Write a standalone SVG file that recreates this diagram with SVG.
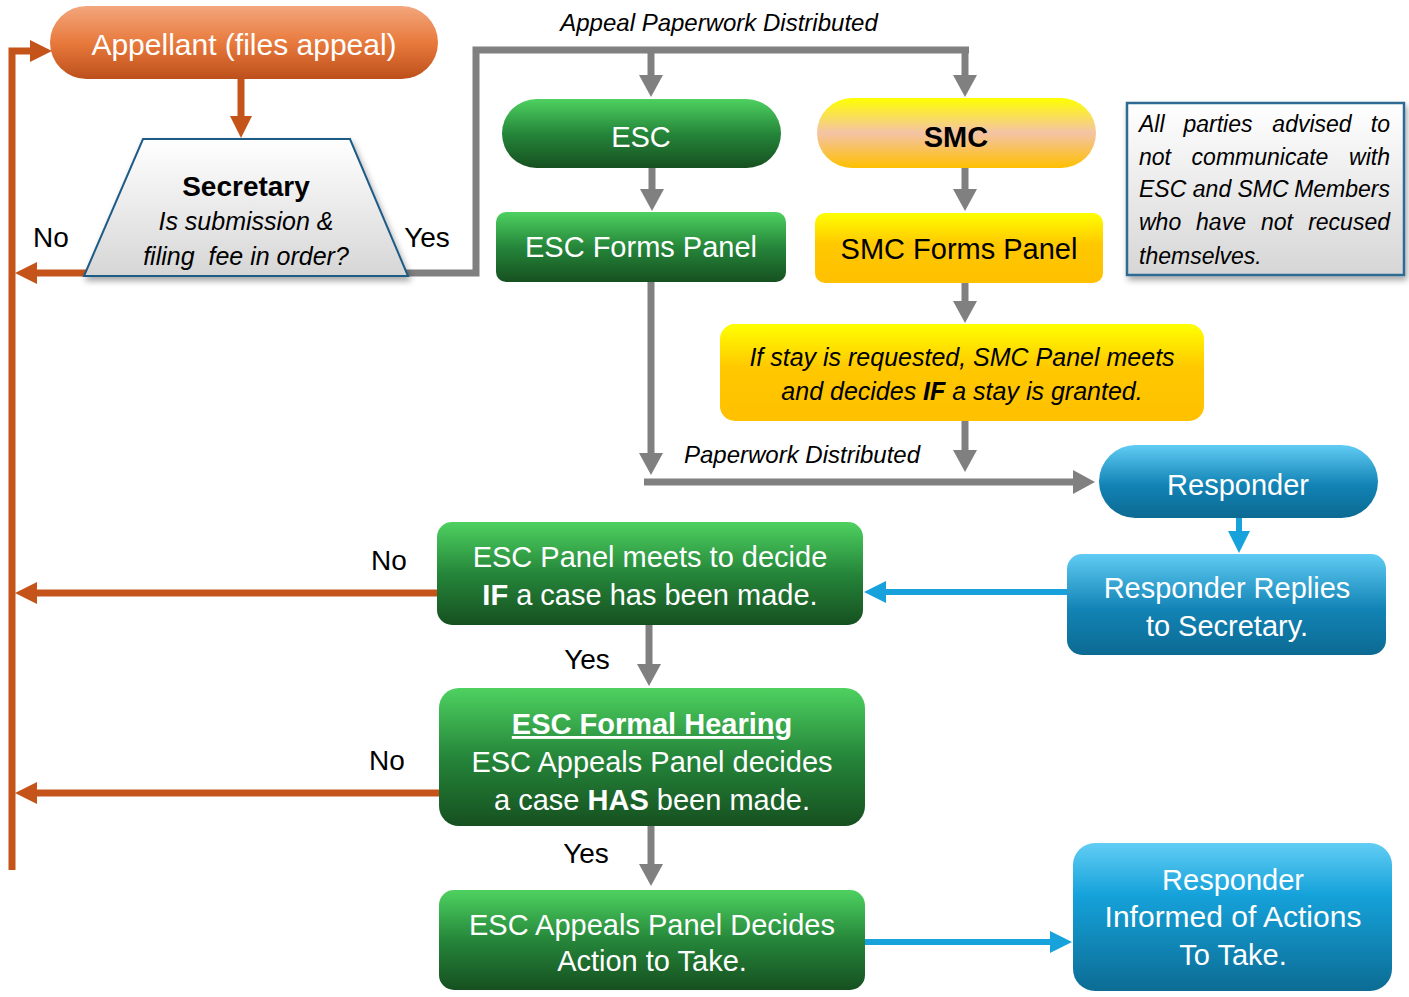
<svg xmlns="http://www.w3.org/2000/svg" width="1409" height="997" viewBox="0 0 1409 997">
<defs>
<linearGradient id="gOrange" x1="0" y1="0" x2="0" y2="1"><stop offset="0" stop-color="#F3A67D"/><stop offset="0.5" stop-color="#E87A3D"/><stop offset="1" stop-color="#BD4F1B"/></linearGradient>
<linearGradient id="gGreen" x1="0" y1="0" x2="0" y2="1"><stop offset="0" stop-color="#4ED160"/><stop offset="0.5" stop-color="#25863A"/><stop offset="1" stop-color="#165020"/></linearGradient>
<linearGradient id="gSmc" x1="0" y1="0" x2="0" y2="1"><stop offset="0" stop-color="#FFFF00"/><stop offset="0.5" stop-color="#F4C3A6"/><stop offset="1" stop-color="#FFC000"/></linearGradient>
<linearGradient id="gYellow" x1="0" y1="0" x2="0" y2="1"><stop offset="0" stop-color="#FFFF00"/><stop offset="0.45" stop-color="#FFC800"/><stop offset="1" stop-color="#FFC000"/></linearGradient>
<linearGradient id="gBlue" x1="0" y1="0" x2="0" y2="1"><stop offset="0" stop-color="#60CCF4"/><stop offset="0.55" stop-color="#1283B5"/><stop offset="1" stop-color="#0C6A92"/></linearGradient>
<linearGradient id="gBlue2" x1="0" y1="0" x2="0" y2="1"><stop offset="0" stop-color="#62CDF4"/><stop offset="0.35" stop-color="#15A2DA"/><stop offset="1" stop-color="#0C6C94"/></linearGradient>
<linearGradient id="gGray" x1="0" y1="0" x2="0" y2="1"><stop offset="0" stop-color="#FFFFFF"/><stop offset="1" stop-color="#D6D6D6"/></linearGradient>
<filter id="shadow" x="-10%" y="-10%" width="125%" height="130%"><feDropShadow dx="2" dy="4" stdDeviation="3" flood-color="#000" flood-opacity="0.35"/></filter>
<marker id="aGray" markerUnits="userSpaceOnUse" markerWidth="24" markerHeight="24" refX="1" refY="12" orient="auto"><path d="M0,0 L22,12 L0,24 z" fill="#808080"/></marker>
<marker id="aOrange" markerUnits="userSpaceOnUse" markerWidth="24" markerHeight="24" refX="1" refY="12" orient="auto"><path d="M0,1 L22,12 L0,23 z" fill="#C4541A"/></marker>
<marker id="aBlue" markerUnits="userSpaceOnUse" markerWidth="24" markerHeight="24" refX="1" refY="12" orient="auto"><path d="M0,1 L22,12 L0,23 z" fill="#17A2DC"/></marker>
<style>
text{font-family:"Liberation Sans",Arial,sans-serif;text-anchor:middle}
.w{fill:#FFFFFF;font-size:29px}
.k{fill:#000000;font-size:29px}
.lbl{fill:#000000;font-size:28px}
.it{fill:#000000;font-size:24px;font-style:italic}
.note{fill:#000000;font-size:23px;font-style:italic}
.s{text-anchor:start}
.e{text-anchor:end}
.gray{fill:none;stroke:#808080;stroke-width:7}
.orange{fill:none;stroke:#C4541A;stroke-width:7}
.blue{fill:none;stroke:#17A2DC;stroke-width:6}
</style>
</defs>
<rect width="1409" height="997" fill="#FFFFFF"/>

<g id="connectors">
<path class="orange" d="M241,79 V117" marker-end="url(#aOrange)"/>
<path class="orange" d="M100,273 H36" marker-end="url(#aOrange)"/>
<path class="orange" d="M12,870 V51 H31" marker-end="url(#aOrange)"/>
<path class="orange" d="M437,593 H36" marker-end="url(#aOrange)"/>
<path class="orange" d="M439,793 H36" marker-end="url(#aOrange)"/>
<path class="gray" d="M400,273 H476 V50 H969"/>
<path class="gray" d="M651,50 V76" marker-end="url(#aGray)"/>
<path class="gray" d="M965,50 V76" marker-end="url(#aGray)"/>
<path class="gray" d="M652,168 V190" marker-end="url(#aGray)"/>
<path class="gray" d="M965,168 V190" marker-end="url(#aGray)"/>
<path class="gray" d="M965,283 V302" marker-end="url(#aGray)"/>
<path class="gray" d="M651,282 V454" marker-end="url(#aGray)"/>
<path class="gray" d="M965,421 V451" marker-end="url(#aGray)"/>
<path class="gray" d="M644,482 H1074" marker-end="url(#aGray)"/>
<path class="gray" d="M649,625 V665" marker-end="url(#aGray)"/>
<path class="gray" d="M651,826 V865" marker-end="url(#aGray)"/>
<path class="blue" d="M1239,518 V532" marker-end="url(#aBlue)"/>
<path class="blue" d="M1067,592 H885" marker-end="url(#aBlue)"/>
<path class="blue" d="M865,942 H1051" marker-end="url(#aBlue)"/>
</g>

<g id="labels">
<text class="lbl" x="51" y="247">No</text>
<text class="lbl" x="427" y="247">Yes</text>
<text class="it" x="719" y="31">Appeal Paperwork Distributed</text>
<text class="it" x="802" y="463">Paperwork Distributed</text>
<text class="lbl" x="389" y="570">No</text>
<text class="lbl" x="587" y="669">Yes</text>
<text class="lbl" x="387" y="770">No</text>
<text class="lbl" x="586" y="863">Yes</text>
</g>

<g id="appellant">
<rect x="50" y="6" width="388" height="73" rx="36.5" fill="url(#gOrange)"/>
<text class="w" x="244" y="55" style="font-size:30px">Appellant (files appeal)</text>
</g>

<g id="secretary">
<path d="M143,139 H350 L408,276 H84 Z" fill="url(#gGray)" stroke="#1F5C85" stroke-width="2" filter="url(#shadow)"/>
<text class="k" x="246" y="196" font-weight="bold" style="font-size:28px">Secretary</text>
<text class="it" x="246" y="230" style="font-size:25px">Is submission &amp;</text>
<text class="it" x="246" y="265" style="font-size:25px;white-space:pre">filing  fee in order?</text>
</g>

<g id="esc">
<rect x="502" y="99" width="279" height="69" rx="34.5" fill="url(#gGreen)"/>
<text class="w" x="641" y="147">ESC</text>
</g>

<g id="smc">
<rect x="817" y="98" width="279" height="70" rx="35" fill="url(#gSmc)"/>
<text class="k" x="956" y="147" font-weight="bold">SMC</text>
</g>

<g id="esc-forms">
<rect x="496" y="212" width="290" height="70" rx="10" fill="url(#gGreen)"/>
<text class="w" x="641" y="257">ESC Forms Panel</text>
</g>

<g id="smc-forms">
<rect x="815" y="213" width="288" height="70" rx="10" fill="url(#gYellow)"/>
<text class="k" x="959" y="259">SMC Forms Panel</text>
</g>

<g id="note">
<rect x="1127" y="103" width="277" height="172" fill="url(#gGray)" stroke="#2D6B91" stroke-width="2.5" filter="url(#shadow)"/>
<text class="note s" x="1139" y="132">All</text>
<text class="note" x="1218" y="132">parties</text>
<text class="note" x="1312" y="132">advised</text>
<text class="note e" x="1390" y="132">to</text>
<text class="note s" x="1139" y="165">not</text>
<text class="note" x="1260" y="165">communicate</text>
<text class="note e" x="1390" y="165">with</text>
<text class="note s" x="1139" y="197">ESC</text>
<text class="note" x="1212" y="197">and</text>
<text class="note" x="1263" y="197">SMC</text>
<text class="note e" x="1390" y="197">Members</text>
<text class="note s" x="1139" y="230">who</text>
<text class="note" x="1221" y="230">have</text>
<text class="note" x="1277" y="230">not</text>
<text class="note e" x="1390" y="230">recused</text>
<text class="note s" x="1139" y="264">themselves.</text>
</g>

<g id="stay">
<rect x="720" y="324" width="484" height="97" rx="15" fill="url(#gYellow)"/>
<text class="it" x="962" y="366" style="font-size:25px">If stay is requested, SMC Panel meets</text>
<text class="it" x="962" y="400" style="font-size:25px">and decides <tspan font-weight="bold">IF</tspan> a stay is granted.</text>
</g>

<g id="responder">
<rect x="1099" y="445" width="279" height="73" rx="36.5" fill="url(#gBlue)"/>
<text class="w" x="1238" y="495">Responder</text>
</g>

<g id="responder-replies">
<rect x="1067" y="554" width="319" height="101" rx="15" fill="url(#gBlue)"/>
<text class="w" x="1227" y="598">Responder Replies</text>
<text class="w" x="1227" y="636">to Secretary.</text>
</g>

<g id="esc-panel">
<rect x="437" y="522" width="426" height="103" rx="15" fill="url(#gGreen)"/>
<text class="w" x="650" y="567">ESC Panel meets to decide</text>
<text class="w" x="650" y="605"><tspan font-weight="bold">IF</tspan> a case has been made.</text>
</g>

<g id="formal-hearing">
<rect x="439" y="688" width="426" height="138" rx="20" fill="url(#gGreen)"/>
<text class="w" x="652" y="734" font-weight="bold" text-decoration="underline" style="text-decoration:underline">ESC Formal Hearing</text>
<text class="w" x="652" y="772">ESC Appeals Panel decides</text>
<text class="w" x="652" y="810">a case <tspan font-weight="bold">HAS</tspan> been made.</text>
</g>

<g id="decides-action">
<rect x="439" y="890" width="426" height="100" rx="15" fill="url(#gGreen)"/>
<text class="w" x="652" y="935">ESC Appeals Panel Decides</text>
<text class="w" x="652" y="971">Action to Take.</text>
</g>

<g id="responder-informed">
<rect x="1073" y="843" width="319" height="148" rx="22" fill="url(#gBlue2)"/>
<text class="w" x="1233" y="890">Responder</text>
<text class="w" x="1233" y="927" style="font-size:30px">Informed of Actions</text>
<text class="w" x="1233" y="965">To Take.</text>
</g>
</svg>
